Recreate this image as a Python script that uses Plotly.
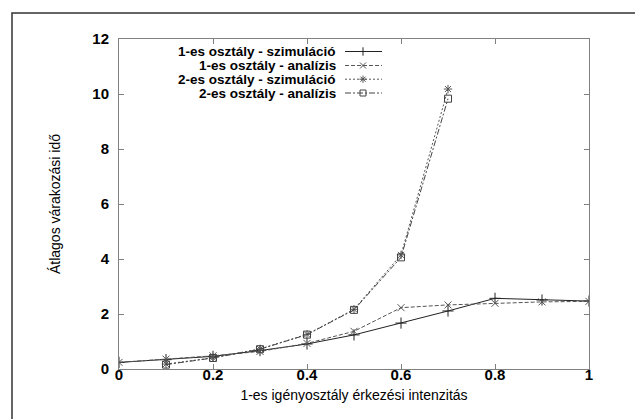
import plotly.graph_objects as go

x_all = [0.0, 0.1, 0.2, 0.3, 0.4, 0.5, 0.6, 0.7, 0.8, 0.9, 1.0]
x_cls2 = [0.1, 0.2, 0.3, 0.4, 0.5, 0.6, 0.7]

sim1 = [0.24, 0.34, 0.46, 0.67, 0.91, 1.24, 1.67, 2.11, 2.57, 2.51, 2.47]
ana1 = [0.24, 0.36, 0.48, 0.64, 0.93, 1.37, 2.23, 2.33, 2.39, 2.44, 2.46]
sim2 = [0.18, 0.41, 0.73, 1.26, 2.17, 4.15, 10.18]
ana2 = [0.16, 0.40, 0.72, 1.25, 2.15, 4.06, 9.83]

names = ["1-es osztály - szimuláció", "1-es osztály - analízis",
         "2-es osztály - szimuláció", "2-es osztály - analízis"]
xs = [x_all, x_all, x_cls2, x_cls2]
ys = [sim1, ana1, sim2, ana2]
dashes = ["solid", "4px,2px", "2px,2px", "6px,2px,2px,2px"]
colors = ["#222222", "#555555", "#555555", "#444444"]
symbols = ["cross-thin-open", "x-thin-open", "asterisk-open", "square-open"]
sizes = [8, 7, 7, 7]

x_ticks = [0, 0.2, 0.4, 0.6, 0.8, 1]
x_ticklabels = ["0", "0.2", "0.4", "0.6", "0.8", "1"]
y_ticks = [0, 2, 4, 6, 8, 10, 12]

FONT = "Liberation Sans, Arial"

fig = go.Figure()
for i in range(4):
    fig.add_trace(go.Scatter(
        x=xs[i], y=ys[i], mode="lines+markers", name=names[i],
        line=dict(color=colors[i], width=1, dash=dashes[i]),
        marker=dict(symbol=symbols[i], size=sizes[i], color=colors[i],
                    line=dict(color=colors[i], width=1)),
        showlegend=False))

# legend samples on an invisible overlay axis (paper-like 0..1 coords)
L, R, T, B = 111, 581, 31, 361
W, H = R - L, B - T
row_y = [43.5, 57.5, 71.2, 85.0]
for i in range(4):
    py = (B - row_y[i]) / H
    xa, xb, xm = (337 - L) / W, (374 - L) / W, (355 - L) / W
    fig.add_trace(go.Scatter(
        x=[xa, xb], y=[py, py], mode="lines", xaxis="x2", yaxis="y2",
        line=dict(color=colors[i], width=1, dash=dashes[i]),
        showlegend=False, hoverinfo="skip"))
    fig.add_trace(go.Scatter(
        x=[xm], y=[py], mode="markers", xaxis="x2", yaxis="y2",
        marker=dict(symbol=symbols[i], size=6, color=colors[i],
                    line=dict(color=colors[i], width=1)),
        showlegend=False, hoverinfo="skip"))
    fig.add_annotation(x=(330 - L) / W, y=py, xref="paper", yref="paper",
                       text=names[i], showarrow=False, xanchor="right",
                       yanchor="middle",
                       font=dict(family=FONT, size=13.5, color="#000",
                                 weight="bold"))

axis_common = dict(showgrid=False, zeroline=False, showline=True,
                   linecolor="#808080", linewidth=1, mirror="ticks",
                   ticks="inside", ticklen=5, tickcolor="#808080",
                   tickfont=dict(family=FONT, size=15, color="#000",
                                 weight="bold"))

fig.update_layout(
    width=643, height=419,
    margin=dict(l=L, r=643 - R, t=T, b=419 - B),
    paper_bgcolor="white", plot_bgcolor="white",
    xaxis=dict(range=[0, 1], tickvals=x_ticks, ticktext=x_ticklabels,
               ticklabelstandoff=-8,
               title=dict(text="1-es igényosztály érkezési intenzitás",
                          font=dict(family=FONT, size=14, color="#000"),
                          standoff=8),
               **axis_common),
    yaxis=dict(range=[0, 12], tickvals=y_ticks, ticklabelstandoff=6,
               title=dict(text="Átlagos várakozási idő",
                          font=dict(family=FONT, size=14, color="#000"),
                          standoff=28),
               **axis_common),
    xaxis2=dict(range=[0, 1], overlaying="x", visible=False, fixedrange=True),
    yaxis2=dict(range=[0, 1], overlaying="y", visible=False, fixedrange=True),
    shapes=[dict(type="rect", xref="paper", yref="paper",
                 x0=(4 - L) / W, x1=(638 - L) / W,
                 y0=(B - 415) / H, y1=(B - 5) / H,
                 line=dict(color="#333", width=1.5))],
)

fig.write_html("out.html")
